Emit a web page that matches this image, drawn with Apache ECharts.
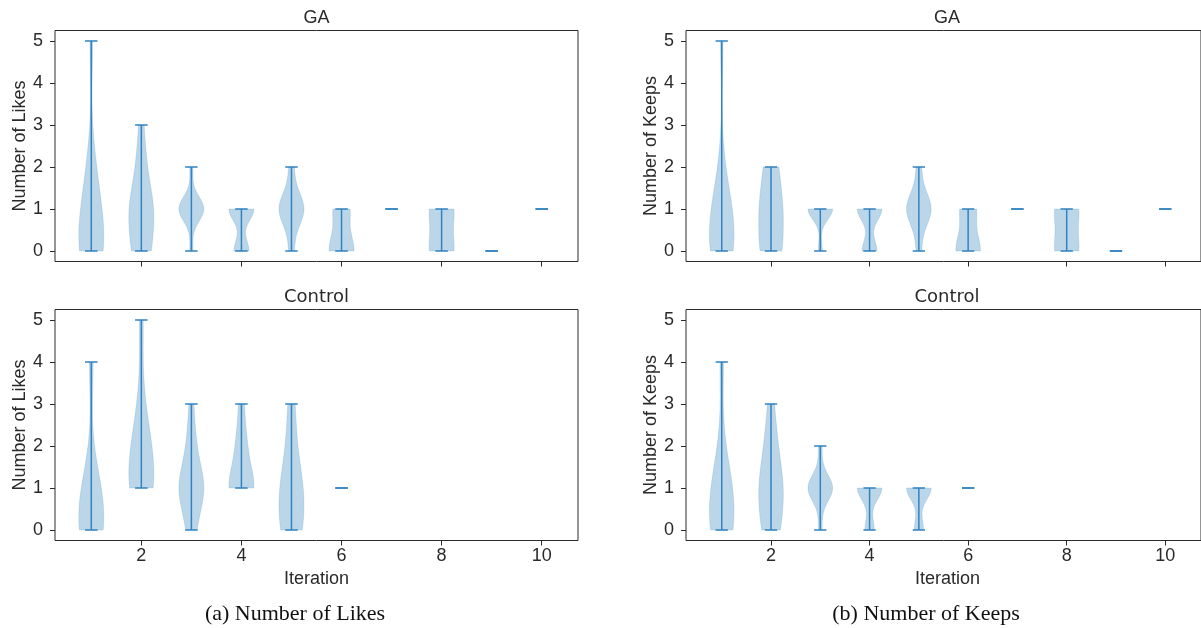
<!DOCTYPE html>
<html><head><meta charset="utf-8">
<script src="https://cdn.jsdelivr.net/npm/echarts@6/dist/echarts.min.js"></script>
<style>html,body{margin:0;padding:0;background:#fff}#c{width:1201px;height:628px}</style>
</head><body><div id="c"></div>
<script>
// ---- data ----
const iterations = [1, 2, 3, 4, 5, 6, 7, 8, 9, 10];
const xTicks = [2, 4, 6, 8, 10];
const yTicks = [0, 1, 2, 3, 4, 5];
// counts of responses with value 0,1,2,3,4,5 for each iteration
const gaLikes = [
  [7, 4, 2, 0, 0, 1],
  [4, 5, 2, 1],
  [1, 8, 1],
  [6, 10],
  [1, 5, 1],
  [3, 2],
  [0, 1],
  [2, 2],
  [1],
  [0, 1]
];
const gaKeeps = [
  [7, 5, 1, 0, 0, 1],
  [3, 3, 2],
  [1, 6],
  [6, 10],
  [1, 5, 1],
  [3, 2],
  [0, 1],
  [2, 2],
  [1],
  [0, 1]
];
const ctrlLikes = [
  [5, 3, 0, 0, 1],
  [0, 5, 3, 1, 0, 1],
  [2, 6, 2, 1],
  [0, 5, 2, 1],
  [3, 3, 1, 1],
  [0, 1],
  [], [], [], []
];
const ctrlKeeps = [
  [5, 4, 1, 0, 1],
  [3, 4, 2, 1],
  [1, 7, 1],
  [3, 8],
  [3, 8],
  [0, 1],
  [], [], [], []
];
const panelTitles = ['GA', 'GA', 'Control', 'Control'];
const yNames = ['Number of Likes', 'Number of Keeps', 'Number of Likes', 'Number of Keeps'];
const xName = 'Iteration';
const captions = ['(a) Number of Likes', '(b) Number of Keeps'];

// ---- stats (matplotlib-style violin: gaussian KDE, Scott bandwidth) ----
function expand(counts) { const s = []; counts.forEach((c, v) => { for (let k = 0; k < c; k++) s.push(v); }); return s; }
function violinStats(samples) {
  if (!samples.length) return null;
  const min = Math.min(...samples), max = Math.max(...samples);
  if (min === max) return { min, max, coords: [], vals: [] };
  const n = samples.length, mean = samples.reduce((a, b) => a + b, 0) / n;
  const variance = samples.reduce((a, b) => a + (b - mean) ** 2, 0) / (n - 1);
  const bw = Math.sqrt(variance) * Math.pow(n, -0.2);
  const coords = [], vals = [];
  for (let i = 0; i < 100; i++) {
    const c = min + (max - min) * i / 99; coords.push(c);
    let d = 0; samples.forEach(x => { d += Math.exp(-((c - x) ** 2) / (2 * bw * bw)); });
    vals.push(d);
  }
  const m = Math.max(...vals);
  return { min, max, coords, vals: vals.map(v => 0.25 * v / m) };
}
const panels = [gaLikes, gaKeeps, ctrlLikes, ctrlKeeps].map(p => p.map(c => violinStats(expand(c))));

const TXT = '#2a2a2a', EDGE = '#2a2a2a', LINE = '#3383c0';
const SANS = "'Liberation Sans', Arial, sans-serif";
const gridsPos = [
  { left: 55, top: 30.5, width: 523, height: 231 },
  { left: 686, top: 30.5, width: 522, height: 231 },
  { left: 55, top: 309.5, width: 523, height: 231 },
  { left: 686, top: 309.5, width: 522, height: 231 }
];

const chart = echarts.init(document.getElementById('c'), null, { renderer: 'canvas' });
const option = {
  animation: false,
  backgroundColor: '#fff',
  grid: gridsPos.map(g => Object.assign({ show: true, borderColor: EDGE, borderWidth: 1, backgroundColor: 'transparent' }, g)),
  xAxis: gridsPos.map((g, i) => ({
    type: 'value', gridIndex: i, min: 0.275, max: 10.725, position: 'bottom',
    axisLine: { show: false, onZero: false },
    splitLine: { show: false },
    axisTick: { show: true, inside: false, length: 5, customValues: xTicks, lineStyle: { color: EDGE, width: 1 } },
    axisLabel: { show: i >= 2, customValues: xTicks, fontSize: 18, color: TXT, fontFamily: SANS, margin: 7 }
  })),
  yAxis: gridsPos.map((g, i) => ({
    type: 'value', gridIndex: i, min: -0.25, max: 5.25, position: 'left',
    axisLine: { show: false, onZero: false },
    splitLine: { show: false },
    axisTick: { show: true, inside: false, length: 5, customValues: yTicks, lineStyle: { color: EDGE, width: 1 } },
    axisLabel: { show: true, customValues: yTicks, fontSize: 18, color: TXT, fontFamily: SANS, margin: 12 }
  })),
  series: panels.map((stats, pi) => ({
    type: 'custom', xAxisIndex: pi, yAxisIndex: pi,
    encode: { x: 0, y: [1, 2] },
    data: stats.map((s, k) => s ? [iterations[k], s.min, s.max, k] : null).filter(d => d),
    renderItem: function (params, api) {
      const k = api.value(3);
      const s = stats[k];
      const pos = iterations[k];
      const children = [];
      if (s.coords.length) {
        const pts = [];
        for (let j = 0; j < s.coords.length; j++) pts.push(api.coord([pos + s.vals[j], s.coords[j]]));
        for (let j = s.coords.length - 1; j >= 0; j--) pts.push(api.coord([pos - s.vals[j], s.coords[j]]));
        children.push({ type: 'polygon', shape: { points: pts }, style: { fill: 'rgba(31,119,180,0.3)', stroke: 'rgba(31,119,180,0.15)', lineWidth: 1 } });
      }
      const a = api.coord([pos, s.min]), b = api.coord([pos, s.max]);
      const lstyle = { stroke: LINE, lineWidth: 1.5 };
      children.push({ type: 'line', shape: { x1: a[0], y1: a[1], x2: b[0], y2: b[1] }, style: lstyle });
      [s.min, s.max].forEach(v => {
        const l = api.coord([pos - 0.125, v]), r = api.coord([pos + 0.125, v]);
        children.push({ type: 'line', shape: { x1: l[0], y1: l[1], x2: r[0], y2: r[1] }, style: lstyle });
      });
      return { type: 'group', children };
    }
  })),
  graphic: [
    ...gridsPos.map((g, i) => ({
      type: 'text', x: g.left + g.width / 2, y: g.top - 12,
      style: { text: panelTitles[i], fontSize: 18, fill: TXT, align: 'center', verticalAlign: 'middle',
        fontFamily: panelTitles[i] === 'Control' ? "'DejaVu Sans', sans-serif" : SANS }
    })),
    ...gridsPos.map((g, i) => ({
      type: 'text', x: g.left - 35, y: g.top + g.height / 2, rotation: Math.PI / 2,
      style: { text: yNames[i], fontSize: 18, fill: TXT, align: 'center', verticalAlign: 'middle', fontFamily: SANS }
    })),
    ...gridsPos.slice(2).map(g => ({
      type: 'text', x: g.left + 261.5, y: 579,
      style: { text: xName, fontSize: 18, fill: TXT, align: 'center', verticalAlign: 'middle', fontFamily: SANS }
    })),
    { type: 'text', x: 295, y: 614, style: { text: captions[0], fontSize: 22, fill: '#111', align: 'center', verticalAlign: 'middle', fontFamily: "'Liberation Serif', 'Times New Roman', serif" } },
    { type: 'text', x: 926, y: 614, style: { text: captions[1], fontSize: 22, fill: '#111', align: 'center', verticalAlign: 'middle', fontFamily: "'Liberation Serif', 'Times New Roman', serif" } }
  ]
};
chart.setOption(option);
</script>
</body></html>
